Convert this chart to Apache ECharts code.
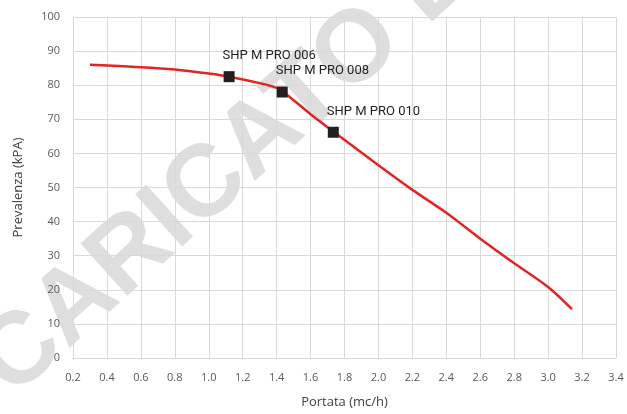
<!DOCTYPE html>
<html>
<head>
<meta charset="utf-8">
<script src="https://cdn.jsdelivr.net/npm/echarts@6/dist/echarts.min.js"></script>
<style>html,body{margin:0;padding:0;background:#fff}#c{width:627px;height:414px}</style>
</head>
<body>
<div id="c"></div>
<script>
// Curve data (Portata mc/h, Prevalenza kPA)
const curveX = [0.30, 0.60, 0.80, 1.00, 1.12, 1.30, 1.40, 1.44, 1.60, 1.74, 2.00, 2.20, 2.40, 2.60, 2.80, 3.00, 3.14];
const curveY = [86.0, 85.3, 84.6, 83.4, 82.5, 80.6, 79.2, 78.0, 71.5, 66.2, 56.5, 49.3, 42.6, 35.0, 27.8, 20.8, 14.3];
// Model operating points
const modelNames = ['SHP M PRO 006', 'SHP M PRO 008', 'SHP M PRO 010'];
const modelX = [1.12, 1.433, 1.734];
const modelY = [82.5, 78.0, 66.2];
const xTicks = ['0.2','0.4','0.6','0.8','1.0','1.2','1.4','1.6','1.8','2.0','2.2','2.4','2.6','2.8','3.0','3.2','3.4'];
const yTicks = [0,10,20,30,40,50,60,70,80,90,100];

const chart = echarts.init(document.getElementById('c'), null, {renderer:'canvas'});
const gridColor = '#d9d9d9';
const tickColor = '#595959';
chart.setOption({
  animation: false,
  grid: {left: 73, right: 11, top: 17, bottom: 53},
  graphic: [{
    type: 'text', z: -10,
    x: -6, y: 378, rotation: 42 * Math.PI / 180,
    style: {text: 'CARICATO DA', font: 'bold 102px "Liberation Sans"', fill: 'rgba(200,200,200,0.6)', textAlign: 'left', textVerticalAlign: 'middle'}
  }],
  xAxis: {
    type: 'value', min: 0.2, max: 3.4, interval: 0.2,
    name: 'Portata (mc/h)', nameLocation: 'middle', nameGap: 38,
    nameTextStyle: {color: '#404040', fontSize: 13, fontFamily: 'Open Sans'},
    axisLine: {show: true, lineStyle: {color: gridColor}},
    axisTick: {show: false},
    axisLabel: {color: tickColor, fontSize: 11, fontFamily: 'Open Sans', margin: 14,
      formatter: v => { const i = Math.round((v - 0.2) / 0.2); return xTicks[i] !== undefined ? xTicks[i] : v.toFixed(1); }},
    splitLine: {show: true, lineStyle: {color: gridColor, width: 1}}
  },
  yAxis: {
    type: 'value', min: 0, max: 100, interval: 10,
    name: 'Prevalenza (kPA)', nameLocation: 'middle', nameGap: 48,
    nameTextStyle: {color: '#404040', fontSize: 13, fontFamily: 'Open Sans'},
    axisLine: {show: true, lineStyle: {color: gridColor}},
    axisTick: {show: false},
    axisLabel: {color: tickColor, fontSize: 11, fontFamily: 'Open Sans', margin: 13,
      formatter: v => yTicks.indexOf(v) >= 0 ? String(v) : ''},
    splitLine: {show: true, lineStyle: {color: gridColor, width: 1}}
  },
  series: [{
    type: 'line', smooth: 0.3, showSymbol: false, z: 3,
    data: curveX.map((x, i) => [x, curveY[i]]),
    lineStyle: {color: '#e52421', width: 2.5}
  }, {
    type: 'scatter', symbol: 'rect', symbolSize: 11, z: 4,
    itemStyle: {color: '#231f20', opacity: 1},
    data: modelX.map((x, i) => ({value: [x, modelY[i]], name: modelNames[i]})),
    label: {show: true, formatter: p => p.name, position: [-1, -22], align: 'left',
      color: '#231f20', fontSize: 13, fontFamily: 'Roboto'}
  }]
});
</script>
</body>
</html>
